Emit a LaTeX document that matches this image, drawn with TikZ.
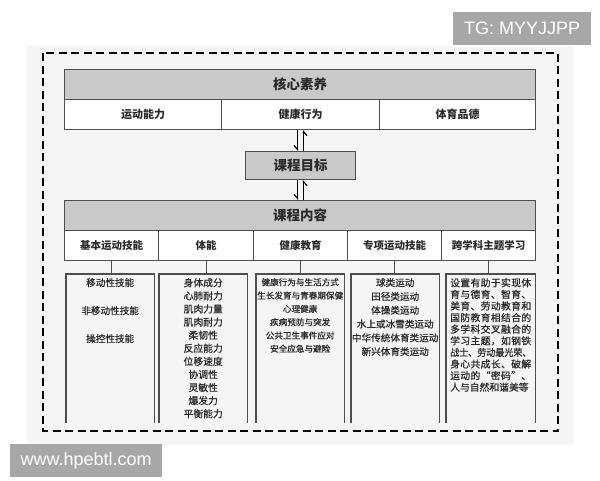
\documentclass[tikz,border=0pt]{standalone}
\usepackage{fontspec}
\usepackage{graphicx}
\setmainfont{Liberation Sans}
\newfontfamily\cjk{Noto Sans CJK SC}
\newfontfamily\cjkm[FakeBold=0.6]{Noto Sans CJK SC}
\usetikzlibrary{arrows.meta}
\definecolor{bandgray}{HTML}{C9C9C9}
\definecolor{edge}{HTML}{4E4E4E}
\definecolor{wmgray}{HTML}{A7A7A7}
\definecolor{bgpaper}{HTML}{F5F5F5}
\definecolor{ink}{HTML}{2A2A2A}
\def\spreadline#1#2{\makebox[#1][l]{\spreadB#2\relax}}
\def\spreadB#1{#1\spreadC}
\def\spreadC#1{\ifx#1\relax\else\hfill#1\expandafter\spreadC\fi}
\tikzset{
  band/.style={draw=edge, line width=1.1pt, fill=bandgray, inner sep=0pt, anchor=north west,
    text=ink, font=\cjk\bfseries\fontsize{13.5}{15}\selectfont},
  cell/.style={draw=edge, line width=1.1pt, fill=white, inner sep=0pt, anchor=north west,
    text=ink, font=\cjk\bfseries\fontsize{10.5}{12}\selectfont, minimum height=30pt},
  colbox/.style={inner sep=0pt, anchor=north west},
  boxline/.style={draw=edge, line width=1.1pt},
  listtxt/.style={inner sep=0pt, anchor=north, align=center, text=ink},
  harp/.style={draw=black, line width=1.2pt, -{Straight Barb[harpoon,swap,length=4pt,width=7pt]}},
  stem/.style={draw=edge, line width=1.1pt},
  wm/.style={fill=wmgray, text=white, inner sep=0pt, anchor=north west, font=\fontsize{18}{20}\selectfont}
}
\begin{document}
\begin{tikzpicture}[x=1pt,y=-1pt]
\useasboundingbox (0,0) rectangle (600,480);
\fill[white] (0,0) rectangle (600,480);
\fill[bgpaper] (27,46) rectangle (573,445);
\draw[black, line width=2.3pt, dash pattern=on 8pt off 4.5pt] (43,53) rectangle (558,431);

% watermarks
\node[wm, minimum width=138pt, minimum height=33pt] (tg) at (453,12) {TG: MYYJJPP};
\node[wm, minimum width=152pt, minimum height=33pt] (www) at (10,444) {www.hpebtl.com};

% core literacy
\node[band, minimum width=471pt, minimum height=30pt] (core) at (64,69) {核心素养};
\node[cell, minimum width=157pt, font=\cjk\bfseries\fontsize{11}{13}\selectfont] (c1) at (64,99) {运动能力};
\node[cell, minimum width=158pt, font=\cjk\bfseries\fontsize{11}{13}\selectfont] (c2) at (221,99) {健康行为};
\node[cell, minimum width=156pt, font=\cjk\bfseries\fontsize{11}{13}\selectfont] (c3) at (379,99) {体育品德};

% goal
\node[band, minimum width=110pt, minimum height=28pt] (goal) at (245,151) {课程目标};
\draw[harp] ([xshift=-3pt]c2.south) -- ([xshift=-3pt]c2.south |- goal.north);
\draw[harp] ([xshift=3pt]c2.south |- goal.north) -- ([xshift=3pt]c2.south);

% content
\node[band, minimum width=471pt, minimum height=30pt] (content) at (64,200) {课程内容};
\draw[harp] ([xshift=-3pt]goal.south) -- ([xshift=-3pt]goal.south |- content.north);
\draw[harp] ([xshift=3pt]goal.south |- content.north) -- ([xshift=3pt]goal.south);

\node[cell, minimum width=94pt] (h1) at (64,230) {基本运动技能};
\node[cell, minimum width=95pt] (h2) at (158,230) {体能};
\node[cell, minimum width=94pt] (h3) at (253,230) {健康教育};
\node[cell, minimum width=94pt] (h4) at (347,230) {专项运动技能};
\node[cell, minimum width=94pt] (h5) at (441,230) {跨学科主题学习};

% column boxes (open at the bottom)
\node[colbox, minimum width=88pt, minimum height=149pt] (b1) at (66,274) {};
\node[colbox, minimum width=88pt, minimum height=149pt] (b2) at (159,274) {};
\node[colbox, minimum width=88pt, minimum height=149pt] (b3) at (256,274) {};
\node[colbox, minimum width=88pt, minimum height=149pt] (b4) at (351,274) {};
\node[colbox, minimum width=89pt, minimum height=149pt] (b5) at (446,274) {};
\foreach \b in {b1,b2,b3,b4,b5}{
  \draw[boxline] (\b.south west) -- (\b.north west) -- (\b.north east) -- (\b.south east);
}
\draw[stem] (h1.south) -- (h1.south |- b1.north);
\draw[stem] (h2.south) -- (h2.south |- b2.north);
\draw[stem] (h3.south) -- (h3.south |- b3.north);
\draw[stem] (h4.south) -- (h4.south |- b4.north);
\draw[stem] (h5.south) -- (h5.south |- b5.north);

% column texts
\node[listtxt, font=\cjkm\fontsize{9.6}{28}\selectfont] (t1) at ([yshift=-4pt]b1.north) {移动性技能\\非移动性技能\\操控性技能};
\node[listtxt, font=\cjkm\fontsize{9.8}{13.1}\selectfont] (t2) at ([yshift=-4pt]b2.north) {身体成分\\心肺耐力\\肌肉力量\\肌肉耐力\\柔韧性\\反应能力\\位移速度\\协调性\\灵敏性\\爆发力\\平衡能力};
\node[listtxt, font=\cjkm\fontsize{8.6}{13.3}\selectfont] (t3) at ([yshift=-4pt]b3.north) {健康行为与生活方式\\生长发育与青春期保健\\心理健康\\疾病预防与突发\\公共卫生事件应对\\安全应急与避险};
\node[listtxt, font=\cjkm\fontsize{9.6}{13.8}\selectfont] (t4) at ([yshift=-4pt]b4.north) {球类运动\\田径类运动\\体操类运动\\水上或冰雪类运动\\中华传统体育类运动\\新兴体育类运动};
\node[inner sep=0pt, anchor=north west, align=left, text=ink, font=\cjkm\fontsize{9.8}{11.6}\selectfont] (t5) at ([xshift=4pt,yshift=-4pt]b5.north west)
 {\spreadline{81pt}{设置有助于实现体}\\\spreadline{81pt}{育与德育、智育、}\\\spreadline{81pt}{美育、劳动教育和}\\\spreadline{81pt}{国防教育相结合的}\\\spreadline{81pt}{多学科交叉融合的}\\\spreadline{81pt}{学习主题，如钢铁}\\\scalebox{0.92}[1]{战士、劳动最光荣、}\\\spreadline{81pt}{身心共成长、破解}\\\spreadline{81pt}{运动的“密码”、}\\人与自然和谐美等};
\end{tikzpicture}
\end{document}
